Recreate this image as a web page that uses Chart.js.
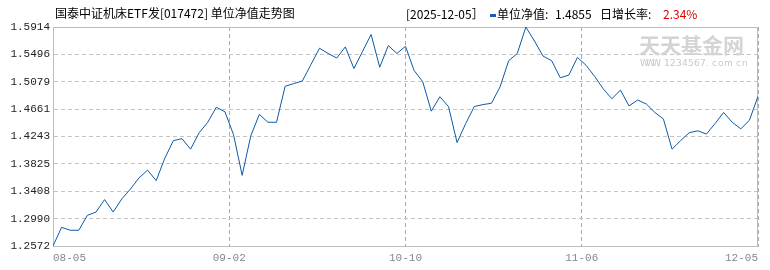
<!DOCTYPE html>
<html>
<head>
<meta charset="utf-8">
<script src="https://cdn.jsdelivr.net/npm/chart.js@4/dist/chart.umd.min.js"></script>
<style>
  body { margin: 0; background: #fff; }
  canvas { display: block; }
</style>
</head>
<body>
<canvas id="navChart" width="770" height="270"></canvas>
<script>
// unit NAV, one value per trading day 2025-08-05 .. 2025-12-05
var navValues = [
    1.2572, 1.2857, 1.2812, 1.2812, 1.3040, 1.3090, 1.3280, 1.3090, 1.3290, 1.3440,
    1.3610, 1.3730, 1.3570, 1.3910, 1.4180, 1.4210, 1.4050, 1.4300, 1.4460, 1.4690,
    1.4620, 1.4270, 1.3650, 1.4250, 1.4580, 1.4460, 1.4460, 1.5010, 1.5050, 1.5090,
    1.5340, 1.5590, 1.5510, 1.5440, 1.5610, 1.5280, 1.5540, 1.5800, 1.5300, 1.5630,
    1.5510, 1.5620, 1.5250, 1.5080, 1.4630, 1.4850, 1.4700, 1.4150, 1.4440, 1.4700,
    1.4730, 1.4750, 1.5000, 1.5400, 1.5510, 1.5914, 1.5700, 1.5470, 1.5400, 1.5140,
    1.5180, 1.5450, 1.5330, 1.5160, 1.4970, 1.4820, 1.4950, 1.4710, 1.4800, 1.4740,
    1.4610, 1.4510, 1.4050, 1.4180, 1.4300, 1.4330, 1.4280, 1.4440, 1.4610, 1.4460,
    1.4360, 1.4490, 1.4855
];
var xTickLabels = ['08-05', '09-02', '10-10', '11-06', '12-05'];
var yTickLabels = ['1.2572', '1.2990', '1.3408', '1.3825', '1.4243', '1.4661', '1.5079', '1.5496', '1.5914'];

var titleText = '国泰中证机床ETF发[017472] 单位净值走势图';
var lastDate = '2025-12-05';
var lastNav = '1.4855';
var lastRate = '2.34%';

var points = [];
for (let i = 0; i < navValues.length; i++) {
    points.push({ x: i, y: navValues[i] });
}
var lastIndex = navValues.length - 1;

// title, header and watermark, drawn by hand
var headerPlugin = {
    id: 'header',
    beforeDatasetsDraw: function (chart) {
        var ctx = chart.ctx;
        var area = chart.chartArea;
        ctx.save();
        // watermark
        ctx.fillStyle = '#d4d4d4';
        ctx.textBaseline = 'alphabetic';
        ctx.textAlign = 'left';
        ctx.font = 'bold 21px "Noto Sans CJK SC"';
        ctx.fillText('天天基金网', 639, 53);
        ctx.font = '9px "DejaVu Sans"';
        ctx.fillStyle = '#c8c8c8';
        var wm = 'WWW.1234567.com.cn';
        let wx = 640;
        for (let i = 0; i < wm.length; i++) {
            ctx.fillText(wm[i], wx, 66);
            wx += 6;
        }
        // frame
        ctx.strokeStyle = '#bdbdbd';
        ctx.lineWidth = 1;
        ctx.strokeRect(Math.round(area.left) + 0.5, Math.round(area.top) + 0.5,
            Math.round(area.right - area.left) - 1, Math.round(area.bottom - area.top));
        ctx.restore();
    },
    afterDraw: function (chart) {
        var ctx = chart.ctx;
        ctx.save();
        ctx.textBaseline = 'middle';
        ctx.textAlign = 'left';
        ctx.fillStyle = '#000';
        ctx.font = '12px "Noto Sans CJK SC"';
        ctx.fillText(titleText, 55, 13);

        ctx.fillText('[' + lastDate + '］', 406, 14);
        ctx.fillStyle = '#1a5cb0';
        ctx.fillRect(490, 14, 6, 3);
        ctx.fillStyle = '#000';
        ctx.fillText('单位净值:', 497, 14);
        ctx.fillText(lastNav, 555, 14);
        ctx.fillText('日增长率:', 600, 14);
        ctx.fillStyle = '#e00000';
        ctx.fillText(lastRate, 663, 14);
        ctx.restore();
    }
};

var ctx = document.getElementById('navChart').getContext('2d');
var navChart = new Chart(ctx, {
    type: 'line',
    data: {
        datasets: [{
            data: points,
            borderColor: '#0b5aa8',
            borderWidth: 1,
            pointRadius: 0,
            tension: 0,
            fill: false
        }]
    },
    options: {
        responsive: false,
        animation: false,
        devicePixelRatio: 1,
        layout: { padding: { top: 27, right: 12, left: 0, bottom: 0 } },
        plugins: {
            legend: { display: false },
            tooltip: { enabled: false }
        },
        scales: {
            x: {
                type: 'linear',
                min: 0,
                max: lastIndex,
                afterBuildTicks: function (scale) {
                    scale.ticks = xTickLabels.map(function (l, i) {
                        return { value: lastIndex * i / (xTickLabels.length - 1) };
                    });
                },
                afterFit: function (scale) { scale.height = 24; },
                ticks: {
                    align: 'inner',
                    maxRotation: 0,
                    autoSkip: false,
                    padding: 5,
                    color: '#888',
                    font: { family: '"Liberation Mono"', size: 11 },
                    callback: function (v, i) { return xTickLabels[i]; }
                },
                grid: { color: '#aaaaaa', drawTicks: false },
                border: { display: true, color: '#bdbdbd', dash: [4, 3] }
            },
            y: {
                type: 'linear',
                min: parseFloat(yTickLabels[0]),
                max: parseFloat(yTickLabels[yTickLabels.length - 1]),
                afterBuildTicks: function (scale) {
                    scale.ticks = yTickLabels.map(function (l) {
                        return { value: parseFloat(l) };
                    });
                },
                afterFit: function (scale) { scale.width = 53; },
                ticks: {
                    autoSkip: false,
                    padding: 3,
                    color: '#222',
                    font: { family: '"Liberation Mono"', size: 11 },
                    callback: function (v, i) { return yTickLabels[i]; }
                },
                grid: { color: '#c4c4c4', drawTicks: false },
                border: { display: true, color: '#bdbdbd', dash: [4, 3] }
            }
        }
    },
    plugins: [headerPlugin]
});
</script>
</body>
</html>
